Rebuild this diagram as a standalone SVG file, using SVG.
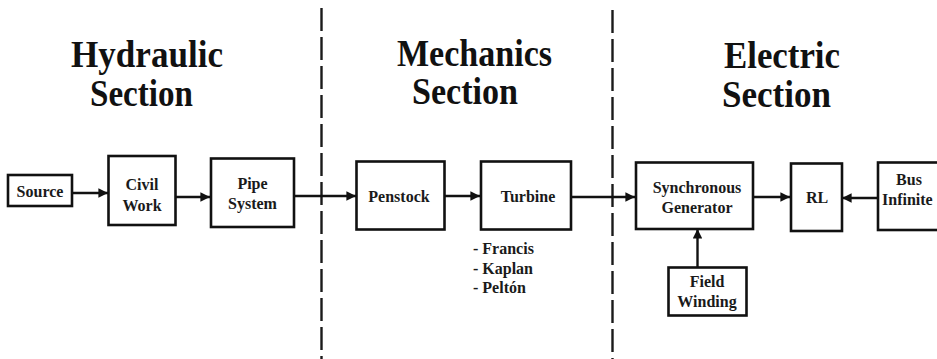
<svg xmlns="http://www.w3.org/2000/svg" width="937" height="359" viewBox="0 0 937 359" font-family="Liberation Serif, Times New Roman, DejaVu Serif, serif" font-weight="bold">
<style>
.box{fill:#fff;stroke:#111;stroke-width:2.6}
.t{font-size:16px;fill:#1a1a1a;text-anchor:middle}
.h{font-size:37px;fill:#111}
.l{font-size:16px;fill:#1a1a1a}
.c{stroke:#111;stroke-width:2.4;fill:none;marker-end:url(#ah)}
.d{stroke:#1a1a1a;stroke-width:2.4;stroke-dasharray:23 6;fill:none}
</style>
<defs>
<marker id="ah" viewBox="0 0 10 10" refX="10" refY="5" markerWidth="4" markerHeight="4" orient="auto" markerUnits="strokeWidth">
<path d="M0,0 L10,5 L0,10 z" fill="#111"/>
</marker>
</defs>
<rect width="937" height="359" fill="#fff"/>
<g id="headings">
<text class="h" x="71" y="67" textLength="152" lengthAdjust="spacingAndGlyphs">Hydraulic</text>
<text class="h" x="90" y="106" textLength="103" lengthAdjust="spacingAndGlyphs">Section</text>
<text class="h" x="397" y="66" textLength="155" lengthAdjust="spacingAndGlyphs">Mechanics</text>
<text class="h" x="412" y="104" textLength="106" lengthAdjust="spacingAndGlyphs">Section</text>
<text class="h" x="724" y="68" textLength="116" lengthAdjust="spacingAndGlyphs">Electric</text>
<text class="h" x="722" y="107" textLength="109" lengthAdjust="spacingAndGlyphs">Section</text>
</g>
<g id="dividers">
<line class="d" x1="321.5" y1="8" x2="321.5" y2="359"/>
<line class="d" x1="612.5" y1="10" x2="612.5" y2="359"/>
</g>
<g id="connectors">
<line class="c" x1="72" y1="193" x2="108" y2="193"/>
<line class="c" x1="176" y1="197" x2="210" y2="197"/>
<line class="c" x1="294" y1="196" x2="356" y2="196"/>
<line class="c" x1="444" y1="196" x2="480" y2="196"/>
<line class="c" x1="571" y1="197" x2="635" y2="197"/>
<line class="c" x1="753" y1="197" x2="790" y2="197"/>
<line class="c" x1="878" y1="198" x2="842" y2="198"/>
<line class="c" x1="697.5" y1="267" x2="697.5" y2="229"/>
</g>
<g id="source">
<rect class="box" x="8" y="175" width="64" height="31"/>
<text class="t" x="40" y="196.5">Source</text>
</g>
<g id="civil-work">
<rect class="box" x="108.5" y="156" width="67" height="69"/>
<text class="t" x="142" y="190">Civil</text>
<text class="t" x="142" y="210.5">Work</text>
</g>
<g id="pipe-system">
<rect class="box" x="211" y="158.5" width="83" height="68.5"/>
<text class="t" x="252.5" y="189">Pipe</text>
<text class="t" x="252.5" y="209">System</text>
</g>
<g id="penstock">
<rect class="box" x="356.5" y="161.5" width="88" height="68"/>
<text class="t" x="399" y="201.5">Penstock</text>
</g>
<g id="turbine">
<rect class="box" x="481" y="161.5" width="90" height="68"/>
<text class="t" x="528" y="201.5">Turbine</text>
<text class="l" x="473" y="254">- Francis</text>
<text class="l" x="473" y="273.5">- Kaplan</text>
<text class="l" x="473" y="293">- Peltón</text>
</g>
<g id="synchronous-generator">
<rect class="box" x="636" y="162.5" width="117" height="66.5"/>
<text class="t" x="697" y="192.5">Synchronous</text>
<text class="t" x="697" y="212.5">Generator</text>
</g>
<g id="rl">
<rect class="box" x="791" y="163.5" width="51" height="67.5"/>
<text class="t" x="817" y="203">RL</text>
</g>
<g id="bus-infinite">
<rect class="box" x="878" y="162.5" width="70" height="67.5"/>
<text class="t" x="909" y="185">Bus</text>
<text class="l" x="882" y="205">Infinite</text>
</g>
<g id="field-winding">
<rect class="box" x="668.5" y="267.5" width="78" height="48"/>
<text class="t" x="707" y="287">Field</text>
<text class="t" x="707" y="307">Winding</text>
</g>
</svg>
